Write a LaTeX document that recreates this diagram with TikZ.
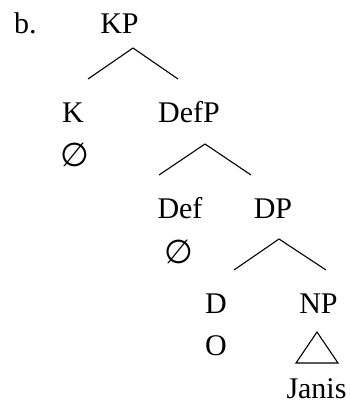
\documentclass[tikz,border=0pt]{standalone}
\usepackage{fontspec}
\setmainfont{Liberation Serif}
\newfontfamily\symfont{DejaVu Sans}
\begin{document}
\begin{tikzpicture}[x=1pt,y=-1pt,
  lab/.style={font=\fontsize{30}{30}\selectfont, inner sep=0pt, anchor=base},
  nul/.style={font=\symfont\fontsize{33}{33}\selectfont, inner sep=0pt, anchor=center},
  br/.style={line width=1.1pt, line join=miter}]
\useasboundingbox (0,0) rectangle (349,410);
\node[lab, anchor=base west] (b) at (14,33) {b.};
\node[lab] (KP) at (119.5,33) {KP};
\node[lab] (K) at (73,122) {K};
\node[lab] (DefP) at (189,122) {DefP};
\node[nul] (n1) at (75,155) {∅};
\node[lab] (Def) at (180,218) {Def};
\node[lab] (DP) at (273,218) {DP};
\node[nul] (n2) at (179,251.5) {∅};
\node[lab] (D) at (216,313) {D};
\node[lab] (NP) at (318.5,313) {NP};
\node[lab] (O) at (216,355) {O};
\node[lab] (Janis) at (316.5,398) {Janis};
\coordinate (a1) at (133,48);  \coordinate (l1) at (88,79);   \coordinate (r1) at (178,79);
\coordinate (a2) at (205,144); \coordinate (l2) at (159,175);  \coordinate (r2) at (251,175);
\coordinate (a3) at (279,239); \coordinate (l3) at (234,270);  \coordinate (r3) at (326,270);
\coordinate (t1) at (317,332); \coordinate (t2) at (296,363);  \coordinate (t3) at (338,363);
\draw[br] (l1) -- (a1) -- (r1);
\draw[br] (l2) -- (a2) -- (r2);
\draw[br] (l3) -- (a3) -- (r3);
\draw[br] (t1) -- (t2) -- (t3) -- cycle;
\end{tikzpicture}
\end{document}
